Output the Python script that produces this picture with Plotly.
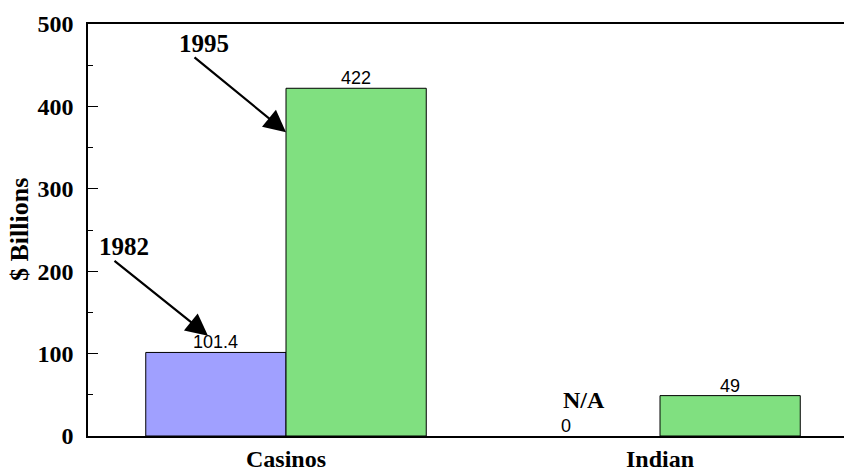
import plotly.graph_objects as go

# Gambling revenue by sector, $ billions
categories = ["Casinos", "Indian"]
values_1982 = [101.4, 0]
values_1995 = [422, 49]
labels_1982 = ["101.4", "0"]
labels_1995 = ["422", "49"]
y_ticks = [0, 100, 200, 300, 400, 500]

SERIF = "Liberation Serif"
SANS = "Liberation Sans"
BARGAP = 0.25

fig = go.Figure()
fig.add_trace(go.Bar(
    x=categories, y=values_1982, name="1982",
    marker=dict(color="#a0a0ff", line=dict(color="black", width=[1, 0])),
))
fig.add_trace(go.Bar(
    x=categories, y=values_1995, name="1995",
    marker=dict(color="#80e080", line=dict(color="black", width=1)),
))

# pixel -> data helpers for the plot box (left 88, right 844, top 24, bottom 439)
def xd(px):
    return (px - 286) / 374.0

def yd(py):
    return (439 - py) * 500 / 415.0

annotations = []

# value labels sitting on top of each bar
half = (1 - BARGAP) / 4
for i, (v, lab) in enumerate(zip(values_1982, labels_1982)):
    annotations.append(dict(
        x=i - half, y=v, xref="x", yref="y", text=lab, showarrow=False,
        yanchor="bottom", yshift=-2, xshift=-24 if v == 0 else 0,
        font=dict(family=SANS, size=18, color="black")))
for i, (v, lab) in enumerate(zip(values_1995, labels_1995)):
    annotations.append(dict(
        x=i + half, y=v, xref="x", yref="y", text=lab, showarrow=False,
        yanchor="bottom", yshift=-2,
        font=dict(family=SANS, size=18, color="black")))

bold = dict(family=SERIF, size=25, color="black", weight="bold")
annotations += [
    # arrows pointing at the two series
    dict(x=xd(286), y=yd(133), xref="x", yref="y", text="", showarrow=True,
         ax=-93, ay=-76, arrowhead=2, arrowsize=2, arrowwidth=2.2, arrowcolor="black"),
    dict(x=xd(208), y=yd(338), xref="x", yref="y", text="", showarrow=True,
         ax=-95, ay=-76, arrowhead=2, arrowsize=2, arrowwidth=2.2, arrowcolor="black"),
    dict(x=xd(204), y=yd(44), xref="x", yref="y", text="1995", showarrow=False, font=bold),
    dict(x=xd(124), y=yd(248), xref="x", yref="y", text="1982", showarrow=False, font=bold),
    dict(x=xd(584), y=yd(403), xref="x", yref="y", text="N/A", showarrow=False,
         font=dict(family=SERIF, size=24, color="black", weight="bold")),
    # y axis title
    dict(x=(19 - 88) / 756.0, y=0.5, xref="paper", yref="paper", text="$ Billions",
         textangle=-90, showarrow=False, xanchor="center", yanchor="middle",
         font=dict(family=SERIF, size=26, color="black", weight="bold")),
]

fig.update_layout(
    width=844, height=472,
    margin=dict(l=88, r=0, t=24, b=33),
    paper_bgcolor="white", plot_bgcolor="white",
    barmode="group", bargap=BARGAP, bargroupgap=0,
    showlegend=False,
    annotations=annotations,
    xaxis=dict(
        range=[xd(88), xd(844)], showline=True, linecolor="black", linewidth=1.5,
        mirror=True, ticks="", showgrid=False, zeroline=False,
        tickfont=dict(family=SERIF, size=24, color="black", weight="bold"),
    ),
    yaxis=dict(
        range=[0, 500], tickvals=y_ticks, showline=True, linecolor="black", linewidth=1.5,
        ticks="inside", ticklen=10, tickwidth=1, tickcolor="black",
        minor=dict(ticks="inside", ticklen=5, dtick=50, tickcolor="black", tickwidth=1),
        showgrid=False, zeroline=False,
        tickfont=dict(family=SERIF, size=24, color="black", weight="bold"),
        ticklabelstandoff=8,
    ),
)

fig.write_html("out.html")
